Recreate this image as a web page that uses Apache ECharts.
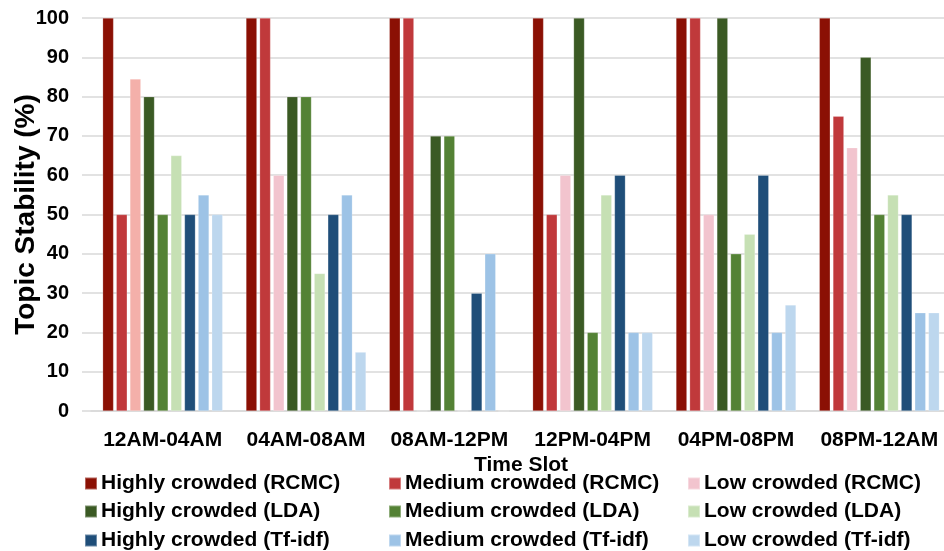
<!DOCTYPE html>
<html>
<head>
<meta charset="utf-8">
<script src="https://cdn.jsdelivr.net/npm/echarts@6/dist/echarts.min.js"></script>
<style>
  html, body { margin: 0; padding: 0; background: #fff; }
  #chart { width: 944px; height: 551px; }
</style>
</head>
<body>
<div id="chart"></div>
<script>
// Time slots on the x axis
const timeSlots = ['12AM-04AM', '04AM-08AM', '08AM-12PM', '12PM-04PM', '04PM-08PM', '08PM-12AM'];
const yTicks = [0, 10, 20, 30, 40, 50, 60, 70, 80, 90, 100];

// Topic stability (%) per crowd level and method
const highRCMC   = [100, 100, 100, 100, 100, 100];
const mediumRCMC = [50, 100, 100, 50, 100, 75];
const lowRCMC    = [84.5, 60, 0, 60, 50, 67];
const highLDA    = [80, 80, 70, 100, 100, 90];
const mediumLDA  = [50, 80, 70, 20, 40, 50];
const lowLDA     = [65, 35, 0, 55, 45, 55];
const highTfidf  = [50, 50, 30, 60, 60, 50];
const mediumTfidf= [55, 55, 40, 20, 20, 25];
const lowTfidf   = [50, 15, 0, 20, 27, 25];

const seriesDefs = [
  { name: 'Highly crowded (RCMC)',  data: highRCMC,    color: '#8B1004' },
  { name: 'Medium crowded (RCMC)',  data: mediumRCMC,  color: '#C0393B' },
  { name: 'Low crowded (RCMC)',     data: lowRCMC,     color: '#F2C4CE', firstColor: '#F4B0AA' },
  { name: 'Highly crowded (LDA)',   data: highLDA,     color: '#3B5A24' },
  { name: 'Medium crowded (LDA)',   data: mediumLDA,   color: '#548235' },
  { name: 'Low crowded (LDA)',      data: lowLDA,      color: '#C6E0B4' },
  { name: 'Highly crowded (Tf-idf)',data: highTfidf,   color: '#1F4E79' },
  { name: 'Medium crowded (Tf-idf)',data: mediumTfidf, color: '#9DC3E6' },
  { name: 'Low crowded (Tf-idf)',   data: lowTfidf,    color: '#BDD7EE' }
];

const FONT = '"Liberation Sans", Arial, sans-serif';
const grey = '#d9d9d9';

const series = seriesDefs.map(s => ({
  name: s.name,
  type: 'bar',
  barWidth: 11,
  barGap: '24%',
  itemStyle: { color: s.color, borderColor: 'rgba(255,255,255,0.35)', borderWidth: 0.6 },
  data: s.data.map((v, i) => (i === 0 && s.firstColor)
    ? { value: v, itemStyle: { color: s.firstColor } }
    : v)
}));

// Legend: three columns (crowd level) by three rows (method), one entry each
const legendCols = [84, 388, 687];
const legendRows = [473, 501, 530];
const legends = seriesDefs.map((s, k) => ({
  left: legendCols[k % 3],
  top: legendRows[Math.floor(k / 3)],
  itemWidth: 12,
  itemHeight: 12,
  itemGap: 0,
  icon: 'rect',
  padding: 0,
  textStyle: { fontFamily: FONT, fontSize: 21, fontWeight: 'bold', color: '#000', padding: [0, 0, 0, -1] },
  data: [s.name]
}));

const chart = echarts.init(document.getElementById('chart'), null, { renderer: 'canvas' });
chart.setOption({
  animation: false,
  backgroundColor: '#fff',
  grid: { left: 91, right: -7, top: 18, bottom: 140, containLabel: false, outerBoundsMode: 'none' },
  legend: legends,
  xAxis: {
    type: 'category',
    data: timeSlots,
    name: 'Time Slot',
    nameLocation: 'middle',
    nameGap: 44,
    nameMoveOverlap: false,
    nameTextStyle: { fontFamily: FONT, fontSize: 21, fontWeight: 'bold', color: '#000' },
    axisLine: { lineStyle: { color: grey, width: 1.5 } },
    axisTick: { show: false },
    axisLabel: { interval: 0, hideOverlap: false, margin: 19, fontFamily: FONT, fontSize: 21, fontWeight: 'bold', color: '#000' }
  },
  yAxis: {
    type: 'value',
    min: yTicks[0],
    max: yTicks[yTicks.length - 1],
    interval: 10,
    name: 'Topic Stability (%)',
    nameLocation: 'middle',
    nameGap: 51,
    nameMoveOverlap: false,
    nameTextStyle: { fontFamily: FONT, fontSize: 28, fontWeight: 'bold', color: '#000' },
    axisLine: { show: false },
    axisTick: { show: true, length: 9, lineStyle: { color: grey, width: 1.5 } },
    axisLabel: { margin: 22, fontFamily: FONT, fontSize: 20, fontWeight: 'bold', color: '#000' },
    splitLine: { lineStyle: { color: grey, width: 1.5 } }
  },
  series: series
});
</script>
</body>
</html>
